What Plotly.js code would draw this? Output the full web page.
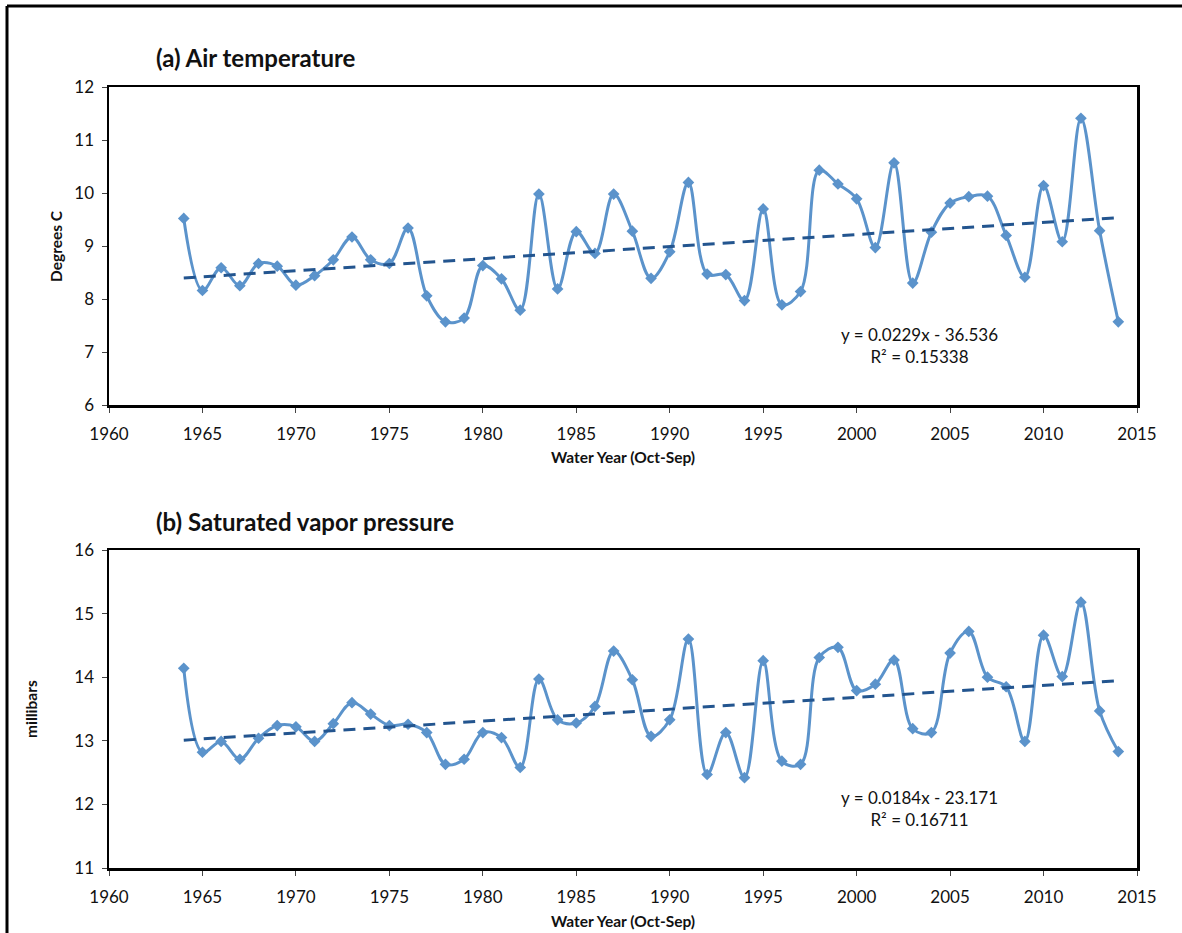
<!DOCTYPE html>
<html>
<head>
<meta charset="utf-8">
<script src="https://cdn.plot.ly/plotly-3.0.1.min.js"></script>
<style>html,body{margin:0;padding:0;background:#fff;}#chart{width:1182px;height:933px;}</style>
</head>
<body>
<div id="chart"></div>
<script>
// ---- Data ----
const years = [1964,1965,1966,1967,1968,1969,1970,1971,1972,1973,1974,1975,1976,1977,1978,1979,1980,1981,1982,1983,1984,1985,1986,1987,1988,1989,1990,1991,1992,1993,1994,1995,1996,1997,1998,1999,2000,2001,2002,2003,2004,2005,2006,2007,2008,2009,2010,2011,2012,2013,2014];
const airTemp = [9.52,8.16,8.59,8.25,8.67,8.62,8.26,8.44,8.74,9.17,8.74,8.67,9.34,8.06,7.57,7.64,8.63,8.38,7.79,9.98,8.19,9.27,8.86,9.98,9.28,8.39,8.89,10.2,8.47,8.46,7.97,9.7,7.89,8.14,10.43,10.17,9.89,8.97,10.57,8.3,9.26,9.81,9.93,9.94,9.2,8.41,10.14,9.08,11.41,9.29,7.57];
const vaporPressure = [14.14,12.82,12.99,12.71,13.04,13.24,13.22,12.99,13.27,13.6,13.42,13.24,13.26,13.13,12.63,12.71,13.13,13.05,12.58,13.97,13.33,13.28,13.54,14.41,13.96,13.07,13.33,14.6,12.47,13.13,12.42,14.26,12.68,12.63,14.31,14.47,13.79,13.89,14.27,13.19,13.13,14.38,14.72,14.0,13.85,12.99,14.66,14.01,15.18,13.47,12.83];
const xTicks = [1960,1965,1970,1975,1980,1985,1990,1995,2000,2005,2010,2015];
const airTicks = [6,7,8,9,10,11,12];
const vaporTicks = [11,12,13,14,15,16];
const panelTitles = ["(a) Air temperature", "(b) Saturated vapor pressure"];
const yTitles = ["Degrees C", "millibars"];
const xTitle = "Water Year (Oct-Sep)";
const eqTexts = ["y = 0.0229x - 36.536<br>R\u00b2 = 0.15338", "y = 0.0184x - 23.171<br>R\u00b2 = 0.16711"];

// ---- Build ----
const W = 1182, H = 933;
const FONT = "Lato, 'Open Sans', sans-serif";
const lineColor = "#5B93CB";
const trendColor = "#23558F";
const trendX = [years[0], years[years.length-1]];
// least-squares linear trend of a series
function trendY(ys){
  const n = years.length;
  const mx = years.reduce((a,b)=>a+b,0)/n, my = ys.reduce((a,b)=>a+b,0)/n;
  let sxy=0, sxx=0;
  for(let i=0;i<n;i++){ sxy += (years[i]-mx)*(ys[i]-my); sxx += (years[i]-mx)**2; }
  const m = sxy/sxx, b = my - m*mx;
  return trendX.map(x => m*x + b);
}

const traces = [
  {x: years, y: airTemp, xaxis:'x', yaxis:'y', type:'scatter', mode:'lines+markers',
   line:{color:lineColor, width:3, shape:'spline', smoothing:1},
   marker:{symbol:'diamond', size:9, color:lineColor}},
  {x: trendX, y: trendY(airTemp), xaxis:'x', yaxis:'y', type:'scatter', mode:'lines',
   line:{color:trendColor, width:3, dash:'12px,8px'}},
  {x: years, y: vaporPressure, xaxis:'x2', yaxis:'y2', type:'scatter', mode:'lines+markers',
   line:{color:lineColor, width:3, shape:'spline', smoothing:1},
   marker:{symbol:'diamond', size:9, color:lineColor}},
  {x: trendX, y: trendY(vaporPressure), xaxis:'x2', yaxis:'y2', type:'scatter', mode:'lines',
   line:{color:trendColor, width:3, dash:'12px,8px'}}
];

const xd = [109/W, 1137/W];
const topD = [1-405/H, 1-87/H];
const botD = [1-868/H, 1-550/H];

function xax(anchor){
  return {domain:xd, anchor:anchor, range:[1960,2015], tickmode:'array', tickvals:xTicks,
    ticktext:xTicks.map(String), showline:true, linecolor:'#000', linewidth:2.5, mirror:true,
    ticks:'outside', ticklen:5, tickwidth:1, tickcolor:'#444', showgrid:false, zeroline:false,
    ticklabelstandoff:7, tickfont:{family:FONT, size:17, color:'#111'}, fixedrange:true};
}
function yax(anchor, dom, range, ticks){
  return {domain:dom, anchor:anchor, range:range, tickmode:'array', tickvals:ticks,
    showline:true, linecolor:'#000', linewidth:2.5, mirror:true,
    ticks:'outside', ticklen:5, tickwidth:1, tickcolor:'#444', showgrid:false, zeroline:false,
    ticklabelstandoff:4, tickfont:{family:FONT, size:17, color:'#111'}, fixedrange:true};
}

function ann(text, x, y, opts){
  return Object.assign({text:text, x:x/W, y:1-y/H, xref:'paper', yref:'paper', showarrow:false,
    font:{family:FONT, size:17, color:'#111'}}, opts||{});
}

const annotations = [
  ann('<b>'+panelTitles[0]+'</b>', 154, 57, {xanchor:'left', yanchor:'middle', font:{family:FONT, size:24, color:'#111'}}),
  ann('<b>'+panelTitles[1]+'</b>', 154, 521, {xanchor:'left', yanchor:'middle', font:{family:FONT, size:24, color:'#111'}}),
  ann('<b>'+yTitles[0]+'</b>', 56, 246, {textangle:-90, xanchor:'center', yanchor:'middle', font:{family:FONT, size:15.5, color:'#111'}}),
  ann('<b>'+yTitles[1]+'</b>', 31, 709, {textangle:-90, xanchor:'center', yanchor:'middle', font:{family:FONT, size:15.5, color:'#111'}}),
  ann('<b>'+xTitle+'</b>', 623, 457, {xanchor:'center', yanchor:'middle', font:{family:FONT, size:15.5, color:'#111'}}),
  ann('<b>'+xTitle+'</b>', 623, 921, {xanchor:'center', yanchor:'middle', font:{family:FONT, size:15.5, color:'#111'}}),
  ann(eqTexts[0], 919, 345, {xanchor:'center', yanchor:'middle', align:'center'}),
  ann(eqTexts[1], 919, 808, {xanchor:'center', yanchor:'middle', align:'center'})
];

const layout = {
  width:W, height:H, margin:{l:0,r:0,t:0,b:0}, showlegend:false,
  paper_bgcolor:'#fff', plot_bgcolor:'#fff',
  xaxis: xax('y'), yaxis: yax('x', topD, [6,12], airTicks),
  xaxis2: xax('y2'), yaxis2: yax('x2', botD, [11,16], vaporTicks),
  annotations: annotations,
  shapes: [
    {type:'line', xref:'paper', yref:'paper', x0:7/W, x1:1, y0:1-6/H, y1:1-6/H, line:{color:'#000', width:3}},
    {type:'line', xref:'paper', yref:'paper', x0:7/W, x1:7/W, y0:1-6/H, y1:0, line:{color:'#000', width:3}}
  ],
  font:{family:FONT}
};

Plotly.newPlot('chart', traces, layout, {displayModeBar:false, staticPlot:true});
</script>
</body>
</html>
